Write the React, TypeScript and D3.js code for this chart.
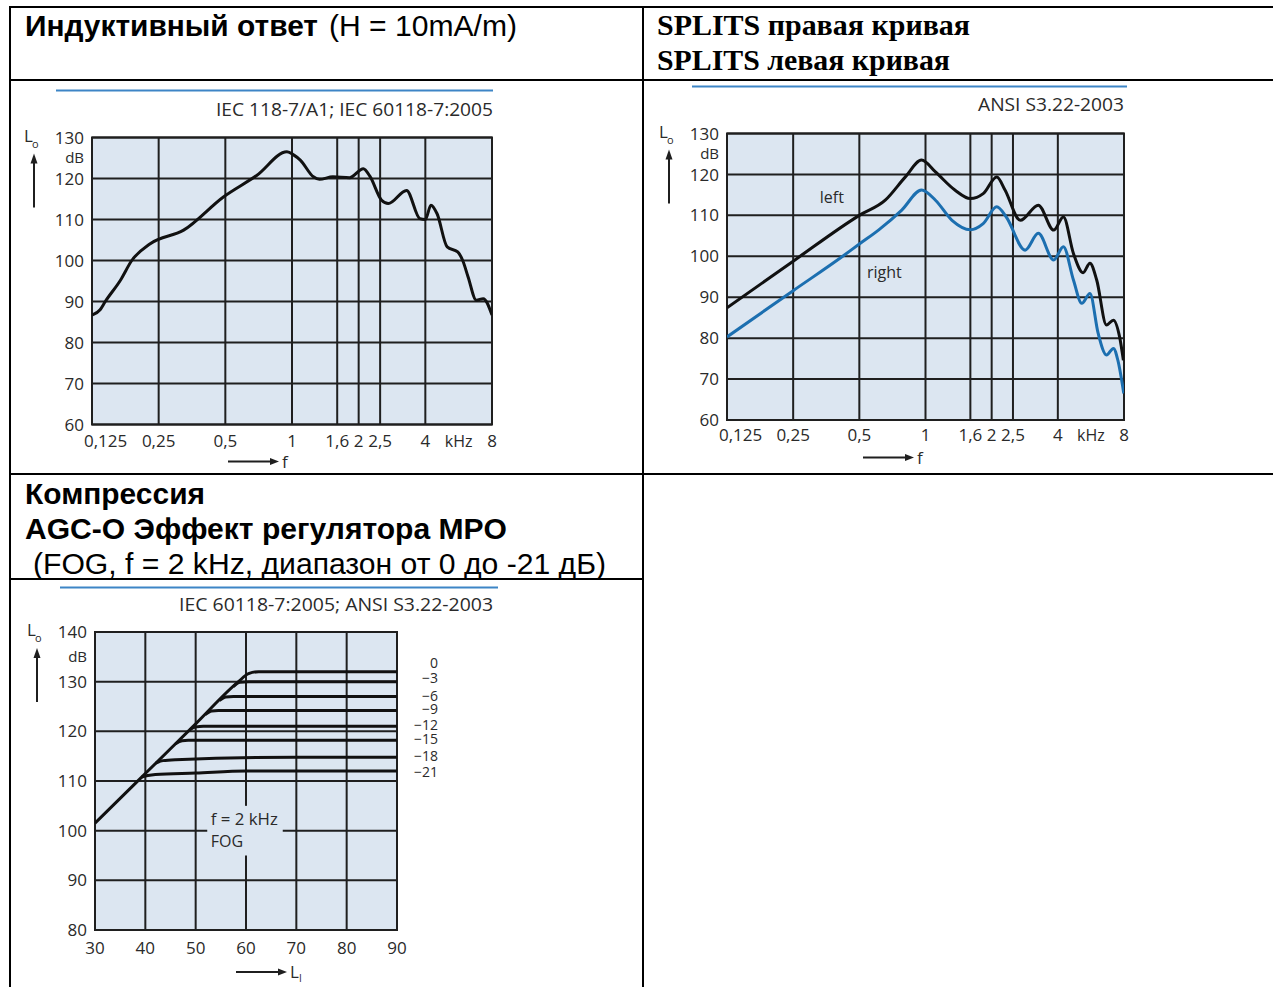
import React from 'react';
import * as d3 from 'd3';

// ---------------- data ----------------
const freqTicks = [0.125, 0.25, 0.5, 1, 1.6, 2, 2.5, 4, 8];
const freqTickLabels = ['0,125', '0,25', '0,5', '1', '1,6', '2', '2,5', '4', '8'];
const freqUnit = 'kHz';
const freqUnitAt = 5.66;
const freqLevelTicks = [60, 70, 80, 90, 100, 110, 120, 130];

// Inductive response (H = 10 mA/m)
const inductiveFreq = [0.125, 0.136, 0.1435, 0.168, 0.189, 0.229, 0.324, 0.49, 0.695, 0.949, 1.02, 1.09, 1.25, 1.33, 1.53, 1.82, 2.1, 2.25, 2.54, 2.72, 3.29, 3.78, 4.0, 4.24, 4.52, 5.02, 5.6, 5.9, 6.24, 6.8, 7.3, 8];
const inductiveDb = [86.7, 88, 90, 95.2, 100, 104.1, 107.4, 115.5, 120.8, 126.5, 125.7, 124.5, 120.4, 119.8, 120.4, 120.2, 122.4, 120.5, 114.7, 113.9, 117.1, 110.2, 110, 113.5, 111.4, 103.3, 102.1, 100, 96, 90.3, 90.7, 86.7];

// SPLITS left (black) / right (blue)
const splitsLeftFreq = [0.125, 0.25, 0.5, 0.656, 0.81, 0.96, 1.11, 1.36, 1.6, 1.83, 2.11, 2.3, 2.7, 3.26, 3.83, 4.24, 4.71, 5.21, 5.6, 6.01, 6.66, 7.16, 7.64, 7.95];
const splitsLeftDb = [87.4, 98.8, 110, 113.7, 119.4, 123.5, 120.6, 116.2, 114.1, 115.3, 119.4, 116.2, 108.8, 112.5, 106.4, 109.6, 100.7, 96, 98.3, 94.2, 83.2, 84.4, 80.3, 74.6];
const splitsRightFreq = [0.125, 0.25, 0.42, 0.5, 0.611, 0.78, 0.96, 1.11, 1.32, 1.6, 1.83, 2.11, 2.33, 2.84, 3.26, 3.83, 4.24, 4.71, 5.14, 5.6, 6.1, 6.66, 7.16, 7.5, 7.98];
const splitsRightDb = [80.3, 91.6, 100, 103, 106.4, 111.3, 116.2, 113.7, 108.8, 106.5, 108, 112.1, 109.6, 101.5, 105.6, 99.1, 102.3, 94.2, 88.5, 90.9, 81.2, 75.9, 77.5, 74.6, 66.5];
const splitsNames = ['left', 'right'];

// AGC-O compression, f = 2 kHz
const agcInputTicks = [30, 40, 50, 60, 70, 80, 90];
const agcOutputTicks = [80, 90, 100, 110, 120, 130, 140];
const agcLabels = ['0', '\u22123', '\u22126', '\u22129', '\u221212', '\u221215', '\u221218', '\u221221'];
const agcLabelLevels = [133.8, 130.7, 127.1, 124.4, 121.3, 118.4, 115.0, 111.8];
const agcCurveInputs = [
  [30, 40, 50, 58.5, 60.5, 62.5, 90],
  [57.5, 58.8, 60.5, 90],
  [54.7, 56, 57.5, 90],
  [51.9, 53.2, 54.5, 90],
  [48.8, 50.1, 51.5, 90],
  [46.0, 47.3, 48.5, 90],
  [42.1, 43.5, 46, 70, 90],
  [39.3, 40.5, 42, 50, 60, 90],
];
const agcCurveOutputs = [
  [101.5, 111.5, 121.5, 130.0, 131.6, 132.0, 132.0],
  [129.0, 129.9, 130, 130],
  [126.2, 126.9, 127, 127],
  [123.4, 124.1, 124.2, 124.2],
  [120.3, 120.9, 121, 121],
  [117.5, 118.1, 118.2, 118.2],
  [113.6, 114.1, 114.3, 114.8, 114.8],
  [110.8, 111.1, 111.3, 111.6, 112, 112],
];

// ---------------- style ----------------
const FONT = "'Open Sans', 'DejaVu Sans', sans-serif";
const SANS = "'Liberation Sans', Arial, sans-serif";
const SERIF = "'Liberation Serif', 'Times New Roman', serif";
const TXT = '#2a2a2a';
const GRID = '#1f1f1f';
const BG = '#dce6f1';
const BLUE = '#1c6fb0';
const RULE = '#3d85c6';

type ChartProps = {
  left: number; top: number; width: number; height: number;
  x: any; y: any;
  xTicks: number[]; xLabels: string[]; yTicks: number[];
  firstLabelStart?: boolean;
  unit?: { at: number; text: string };
  xName: string; xSub?: string;
  labelDy: number; arrowDy: number; arrowStart: number;
  title: string; titleRight: number; titleBaseline: number; titleLen: number;
  rule: { x1: number; x2: number; y: number };
};

function Chart(p: ChartProps) {
  const { left, top, width, height, x, y } = p;
  const bottom = top + height;
  const right = left + width;
  const yLabX = left - 8;
  const dbY = (y(p.yTicks[p.yTicks.length - 1]) + y(p.yTicks[p.yTicks.length - 2])) / 2;
  const ax = left - 58;
  const ay = bottom + p.arrowDy;
  const ax1 = left + p.arrowStart;
  const ax2 = ax1 + 50;
  return (
    <g>
      <line x1={p.rule.x1} x2={p.rule.x2} y1={p.rule.y} y2={p.rule.y} stroke={RULE} strokeWidth={2} />
      <text x={p.titleRight} y={p.titleBaseline} textAnchor="end" fontFamily={FONT} fontSize={19} fill={TXT}
        textLength={p.titleLen} lengthAdjust="spacingAndGlyphs">{p.title}</text>
      <rect x={left} y={top} width={width} height={height} fill={BG} />
      {p.yTicks.map((t) => (
        <line key={'h' + t} x1={left} x2={right} y1={y(t)} y2={y(t)} stroke={GRID} strokeWidth={2} />
      ))}
      {p.xTicks.map((t) => (
        <line key={'v' + t} x1={x(t)} x2={x(t)} y1={top} y2={bottom} stroke={GRID} strokeWidth={2} />
      ))}
      <rect x={left} y={top} width={width} height={height} fill="none" stroke={GRID} strokeWidth={2} />
      {p.yTicks.map((t) => (
        <text key={'yl' + t} x={yLabX} y={y(t)} dy="0.36em" textAnchor="end" fontFamily={FONT} fontSize={17} fill={TXT}>{t}</text>
      ))}
      <text x={yLabX} y={dbY} dy="0.36em" textAnchor="end" fontFamily={FONT} fontSize={15} fill={TXT}>dB</text>
      {p.xTicks.map((t, i) => (
        <text key={'xl' + t} x={i === 0 && p.firstLabelStart ? x(t) - 8 : x(t)} y={bottom + p.labelDy}
          textAnchor={i === 0 && p.firstLabelStart ? 'start' : 'middle'} fontFamily={FONT} fontSize={17} fill={TXT}>{p.xLabels[i]}</text>
      ))}
      {p.unit && (
        <text x={x(p.unit.at)} y={bottom + p.labelDy} textAnchor="middle" fontFamily={FONT} fontSize={16} fill={TXT}>{p.unit.text}</text>
      )}
      {/* y-axis name with arrow */}
      <text x={left - 68} y={top + 4} fontFamily={FONT} fontSize={17} fill={TXT}>L</text>
      <text x={left - 60} y={top + 10} fontFamily={FONT} fontSize={11} fill={TXT}>o</text>
      <line x1={ax} x2={ax} y1={top + 70} y2={top + 24} stroke={GRID} strokeWidth={2} />
      <path d={`M${ax - 3.5},${top + 26} L${ax},${top + 16} L${ax + 3.5},${top + 26} Z`} fill={GRID} />
      {/* x-axis name with arrow */}
      <line x1={ax1} x2={ax2 - 6} y1={ay} y2={ay} stroke={GRID} strokeWidth={2} />
      <path d={`M${ax2 - 8},${ay - 3.5} L${ax2 + 1},${ay} L${ax2 - 8},${ay + 3.5} Z`} fill={GRID} />
      <text x={ax2 + 4} y={ay + 6} fontFamily={FONT} fontSize={17} fill={TXT}>{p.xName}</text>
      {p.xSub && <text x={ax2 + 13} y={ay + 10} fontFamily={FONT} fontSize={10} fill={TXT}>{p.xSub}</text>}
    </g>
  );
}

function zip(a: number[], b: number[]) {
  return a.map((v, i) => [v, b[i]] as [number, number]);
}

export default function App() {
  // Chart 1: inductive response
  const c1 = { left: 92, top: 137.5, width: 400, height: 287 };
  const x1 = d3.scaleLog().base(2).domain([0.125, 8]).range([c1.left, c1.left + c1.width]);
  const y1 = d3.scaleLinear().domain([60, 130]).range([c1.top + c1.height, c1.top]);
  const line1 = d3.line<[number, number]>().x((d) => x1(d[0])).y((d) => y1(d[1])).curve(d3.curveMonotoneX);

  // Chart 2: SPLITS
  const c2 = { left: 727, top: 133.5, width: 397, height: 286.5 };
  const x2 = d3.scaleLog().base(2).domain([0.125, 8]).range([c2.left, c2.left + c2.width]);
  const y2 = d3.scaleLinear().domain([60, 130]).range([c2.top + c2.height, c2.top]);
  const line2 = d3.line<[number, number]>().x((d) => x2(d[0])).y((d) => y2(d[1])).curve(d3.curveMonotoneX);

  // Chart 3: AGC-O
  const c3 = { left: 95, top: 632, width: 302, height: 298 };
  const x3 = d3.scaleLinear().domain([30, 90]).range([c3.left, c3.left + c3.width]);
  const y3 = d3.scaleLinear().domain([80, 140]).range([c3.top + c3.height, c3.top]);
  const line3 = d3.line<[number, number]>().x((d) => x3(d[0])).y((d) => y3(d[1])).curve(d3.curveMonotoneX);

  const clip = (id: string, c: any) => (
    <clipPath id={id}><rect x={c.left} y={c.top} width={c.width} height={c.height} /></clipPath>
  );

  return (
    <svg width={1273} height={987} style={{ position: 'absolute', left: 0, top: 0, background: '#fff' }}>
      <defs>
        {clip('cp1', c1)}
        {clip('cp2', c2)}
        {clip('cp3', c3)}
      </defs>
      <rect x={0} y={0} width={1273} height={987} fill="#fff" />

      {/* table lines */}
      <g stroke="#000" strokeWidth={2}>
        <line x1={10} x2={1273} y1={7} y2={7} />
        <line x1={10} x2={1273} y1={80} y2={80} />
        <line x1={10} x2={1273} y1={474} y2={474} />
        <line x1={10} x2={643} y1={579} y2={579} />
        <line x1={10} x2={10} y1={6} y2={987} />
        <line x1={643} x2={643} y1={6} y2={987} />
      </g>

      {/* headers */}
      <text x={25} y={36} fontFamily={SANS} fontSize={29} fontWeight="bold" fill="#000" textLength={293} lengthAdjust="spacingAndGlyphs">Индуктивный ответ</text>
      <text x={329} y={36} fontFamily={SANS} fontSize={29} fill="#000" textLength={188} lengthAdjust="spacingAndGlyphs">(H = 10mA/m)</text>
      <text x={657} y={35} fontFamily={SERIF} fontSize={29} fontWeight="bold" fill="#000" textLength={313} lengthAdjust="spacingAndGlyphs">SPLITS правая кривая</text>
      <text x={657} y={70} fontFamily={SERIF} fontSize={29} fontWeight="bold" fill="#000" textLength={293} lengthAdjust="spacingAndGlyphs">SPLITS левая кривая</text>
      <text x={25} y={504} fontFamily={SANS} fontSize={29} fontWeight="bold" fill="#000" textLength={180} lengthAdjust="spacingAndGlyphs">Компрессия</text>
      <text x={25} y={539} fontFamily={SANS} fontSize={29} fontWeight="bold" fill="#000" textLength={482} lengthAdjust="spacingAndGlyphs">AGC-O Эффект регулятора MPO</text>
      <text x={33} y={574} fontFamily={SANS} fontSize={29} fill="#000" textLength={573} lengthAdjust="spacingAndGlyphs">(FOG, f = 2 kHz, диапазон от 0 до -21 дБ)</text>

      {/* Chart 1 */}
      <Chart left={c1.left} top={c1.top} width={c1.width} height={c1.height} x={x1} y={y1}
        xTicks={freqTicks} xLabels={freqTickLabels} yTicks={freqLevelTicks} firstLabelStart
        unit={{ at: freqUnitAt, text: freqUnit }} xName="f" labelDy={22} arrowDy={37} arrowStart={136}
        title="IEC 118-7/A1; IEC 60118-7:2005" titleRight={493} titleBaseline={116} titleLen={277}
        rule={{ x1: 56, x2: 493, y: 90.5 }} />
      <path d={line1(zip(inductiveFreq, inductiveDb)) || ''} fill="none" stroke="#111" strokeWidth={3} strokeLinejoin="round" clipPath="url(#cp1)" />

      {/* Chart 2 */}
      <Chart left={c2.left} top={c2.top} width={c2.width} height={c2.height} x={x2} y={y2}
        xTicks={freqTicks} xLabels={freqTickLabels} yTicks={freqLevelTicks} firstLabelStart
        unit={{ at: freqUnitAt, text: freqUnit }} xName="f" labelDy={21} arrowDy={37.5} arrowStart={136}
        title="ANSI S3.22-2003" titleRight={1124} titleBaseline={111} titleLen={146}
        rule={{ x1: 692, x2: 1127, y: 86.5 }} />
      <path d={line2(zip(splitsRightFreq, splitsRightDb)) || ''} fill="none" stroke={BLUE} strokeWidth={3} strokeLinejoin="round" clipPath="url(#cp2)" />
      <path d={line2(zip(splitsLeftFreq, splitsLeftDb)) || ''} fill="none" stroke="#111" strokeWidth={3} strokeLinejoin="round" clipPath="url(#cp2)" />
      <text x={x2(0.375)} y={y2(114.5)} dy="0.36em" textAnchor="middle" fontFamily={FONT} fontSize={16} fill={TXT}>{splitsNames[0]}</text>
      <text x={x2(0.65)} y={y2(96)} dy="0.36em" textAnchor="middle" fontFamily={FONT} fontSize={16} fill={TXT}>{splitsNames[1]}</text>

      {/* Chart 3 */}
      <Chart left={c3.left} top={c3.top} width={c3.width} height={c3.height} x={x3} y={y3}
        xTicks={agcInputTicks} xLabels={agcInputTicks.map(String)} yTicks={agcOutputTicks}
        xName="L" xSub="I" labelDy={24} arrowDy={42} arrowStart={141}
        title="IEC 60118-7:2005; ANSI S3.22-2003" titleRight={493} titleBaseline={611} titleLen={314}
        rule={{ x1: 60, x2: 498, y: 587.5 }} />
      {/* mask behind annotation */}
      <rect x={x3(52.3)} y={y3(105)} width={x3(67.3) - x3(52.3)} height={y3(95) - y3(105)} fill={BG} />
      <text x={x3(53)} y={y3(101.2)} fontFamily={FONT} fontSize={16} fill={TXT} textLength={67} lengthAdjust="spacingAndGlyphs">f = 2 kHz</text>
      <text x={x3(53)} y={y3(96.7)} fontFamily={FONT} fontSize={16} fill={TXT}>FOG</text>
      {agcCurveInputs.map((inp, i) => (
        <path key={'agc' + i} d={line3(zip(inp, agcCurveOutputs[i])) || ''} fill="none" stroke="#111" strokeWidth={3} strokeLinejoin="round" clipPath="url(#cp3)" />
      ))}
      {agcLabels.map((lab, i) => (
        <text key={'al' + i} x={438} y={y3(agcLabelLevels[i])} dy="0.34em" textAnchor="end" fontFamily={FONT} fontSize={14} fill={TXT}>{lab}</text>
      ))}
    </svg>
  );
}
